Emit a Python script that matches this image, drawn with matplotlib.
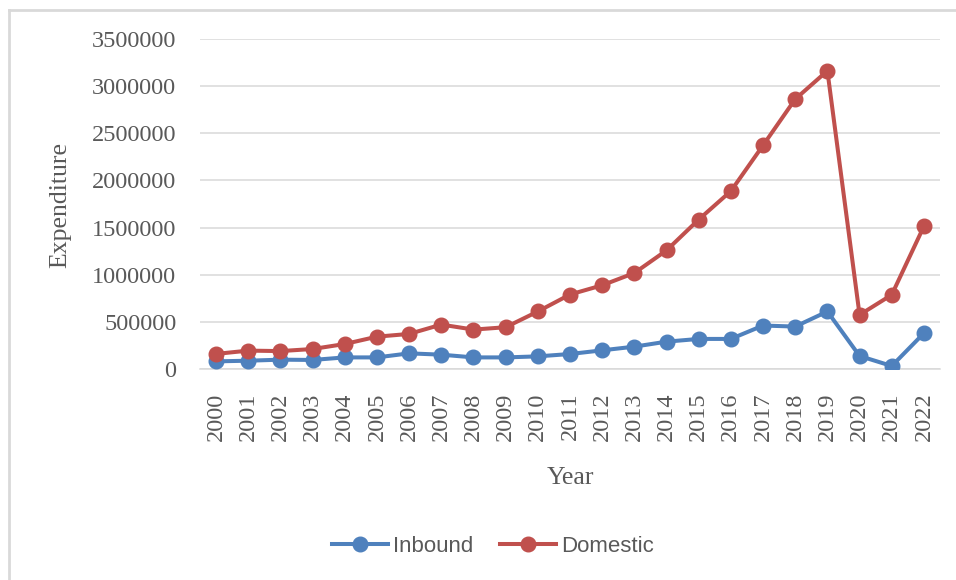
import matplotlib.pyplot as plt
from matplotlib.lines import Line2D

years = [str(y) for y in range(2000, 2023)]
inbound = [81000, 88000, 99000, 96000, 123000, 123000, 166000, 152000, 123000, 123000,
           134000, 159000, 198000, 237000, 290000, 319000, 319000, 461000, 450000, 610000,
           138000, 32000, 380000]
domestic = [160000, 195000, 190000, 212000, 265000, 343000, 372000, 471000, 418000, 443000,
            610000, 790000, 888000, 1018000, 1258000, 1585000, 1887000, 2372000, 2862000, 3163000,
            574000, 787000, 1514000]
yticks = list(range(0, 3500001, 500000))

serif = ['Liberation Serif', 'DejaVu Serif']
txt = '#595959'

fig = plt.figure(figsize=(9.56, 5.8), dpi=100)
ax = fig.add_axes([200/956, 1 - 369/580, 740/956, 330/580])

x = list(range(len(years)))
ax.plot(x, inbound, color='#4F81BD', lw=2.9, marker='o', ms=10.5, label='Inbound', zorder=3)
ax.plot(x, domestic, color='#C0504D', lw=2.9, marker='o', ms=10.5, label='Domestic', zorder=4)

ax.set_xlim(-0.5, len(years) - 0.5)
ax.set_ylim(0, 3500000)
ax.set_yticks(yticks)
ax.set_yticklabels([str(v) for v in yticks], family=serif, fontsize=17.5, color=txt)
ax.set_xticks(x)
ax.set_xticklabels(years, rotation=90, family=serif, fontsize=17.5, color=txt)
ax.tick_params(length=0, pad=17, axis='y')
ax.tick_params(length=0, pad=17, axis='x')
ax.grid(axis='y', color='#D9D9D9', lw=1.1)
ax.set_axisbelow(True)
for s in ['top', 'right', 'left']:
    ax.spines[s].set_visible(False)
ax.spines['bottom'].set_color('#D9D9D9')
ax.spines['bottom'].set_linewidth(1.1)

fig.text(570/956, 1 - 478/580, 'Year', ha='center', va='center',
         family=serif, fontsize=18.5, color=txt)
fig.text(60/956, 1 - 205/580, 'Expenditure', ha='center', va='center', rotation=90,
         family=serif, fontsize=18.5, color=txt)

leg = fig.legend(loc='center', bbox_to_anchor=(493/956, 1 - 546/580), ncol=2, frameon=False,
                 prop={'family': 'Liberation Sans', 'size': 16}, handlelength=2.5,
                 columnspacing=1.2, handletextpad=0.25)
for t in leg.get_texts():
    t.set_color(txt)

# chart border (only top and left visible in the crop)
fig.add_artist(Line2D([9/956, 9/956], [0, 1 - 10/580], color='#D9D9D9', lw=2))
fig.add_artist(Line2D([9/956, 1], [1 - 10/580, 1 - 10/580], color='#D9D9D9', lw=2))

fig.savefig('out.png', dpi=100)
